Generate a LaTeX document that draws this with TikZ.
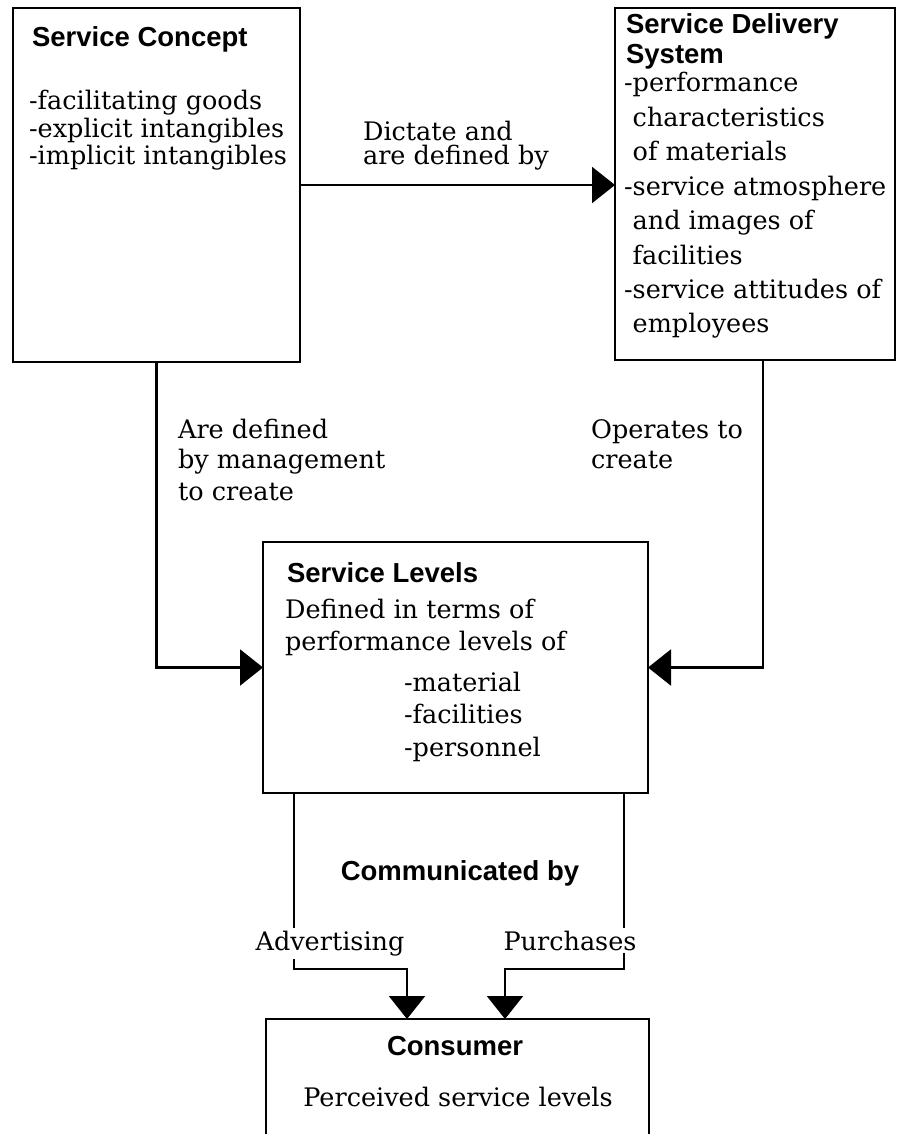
\documentclass[tikz,border=0pt]{standalone}
\usepackage{fontspec}
\setmainfont{DejaVu Serif}
\newfontfamily\hsans{Liberation Sans}
\usetikzlibrary{arrows.meta}
\newcommand\txtfont{\fontsize{25.5}{27.5}\selectfont}
\newcommand\hdfont{\hsans\bfseries\fontsize{27.5}{30}\selectfont}
\begin{document}
\begin{tikzpicture}[x=1pt,y=-1pt,
  line width=2.2pt,
  box/.style={draw, line width=2.2pt, inner sep=0pt, outer sep=0pt, anchor=north west},
  tri/.style={-{Triangle[length=23pt,width=36pt]}},
  txt/.style={font=\txtfont, anchor=base west, inner sep=0pt},
  hd/.style={font=\hdfont, anchor=base west, inner sep=0pt},
  cut/.style={font=\txtfont, anchor=base, fill=white, inner sep=3pt}]
\useasboundingbox (0,0) rectangle (897,1134);
\clip (0,0) rectangle (897,1134);
% boxes
\node[box, minimum width=287pt, minimum height=354pt] (concept) at (13,8) {};
\node[box, minimum width=280pt, minimum height=352pt] (delivery) at (615,8) {};
\node[box, minimum width=385pt, minimum height=251pt] (levels) at (263,542) {};
\node[box, minimum width=383pt, minimum height=200pt] (consumer) at (266,1019) {};
% box 1 text
\node[hd] (t1) at (31,47) {Service Concept};
\foreach \t [count=\i] in {-facilitating goods,-explicit intangibles,-implicit intangibles}
  \node[txt] (c\i) at (28,{110+27.5*(\i-1)}) {\t};
% box 2 text
\node[hd] (t2a) at (625,34) {Service Delivery};
\node[hd] (t2b) at (625,64) {System};
\foreach \t [count=\i] in {-performance,\phantom{-}characteristics,\phantom{-}of materials,-service atmosphere,\phantom{-}and images of,\phantom{-}facilities,-service attitudes of,\phantom{-}employees}
  \node[txt] (d\i) at (623,{92+34.4*(\i-1)}) {\t};
% box 3 text
\node[hd] (t3) at (286,582) {Service Levels};
\node[txt] (l1) at (284,618) {Defined in terms of};
\node[txt] (l2) at (284,650) {performance levels of};
\foreach \t [count=\i] in {-material,-facilities,-personnel}
  \node[txt] (m\i) at (403,{691+32.5*(\i-1)}) {\t};
% consumer text
\node[hd, anchor=base] (t4) at (455,1055) {Consumer};
\node[txt, anchor=base] (p1) at (458,1106) {Perceived service levels};
% connectors
\draw[tri] (concept.east) -- (concept.east -| delivery.west);
\draw[tri] (concept.south) |- (levels.west);
\draw[tri] ([xshift=8pt]delivery.south) |- (levels.east);
\coordinate (advb) at (407,969);
\coordinate (purb) at (505,969);
\draw[tri] ([xshift=31pt]levels.south west) |- (advb) -- (advb |- consumer.north);
\draw[tri] ([xshift=-24pt]levels.south east) |- (purb) -- (purb |- consumer.north);
% connector labels
\node[txt] (a1) at (362,141) {Dictate and};
\node[txt] (a2) at (362,165) {are defined by};
\node[txt] (b1) at (177,438) {Are defined};
\node[txt] (b2) at (177,468) {by management};
\node[txt] (b3) at (177,500) {to create};
\node[txt] (o1) at (590,438) {Operates to};
\node[txt] (o2) at (590,468) {create};
\node[hd, anchor=base] (cb) at (460,880) {Communicated by};
\node[cut] (adv) at (330,950) {Advertising};
\node[cut] (pur) at (570,950) {Purchases};
\end{tikzpicture}
\end{document}
